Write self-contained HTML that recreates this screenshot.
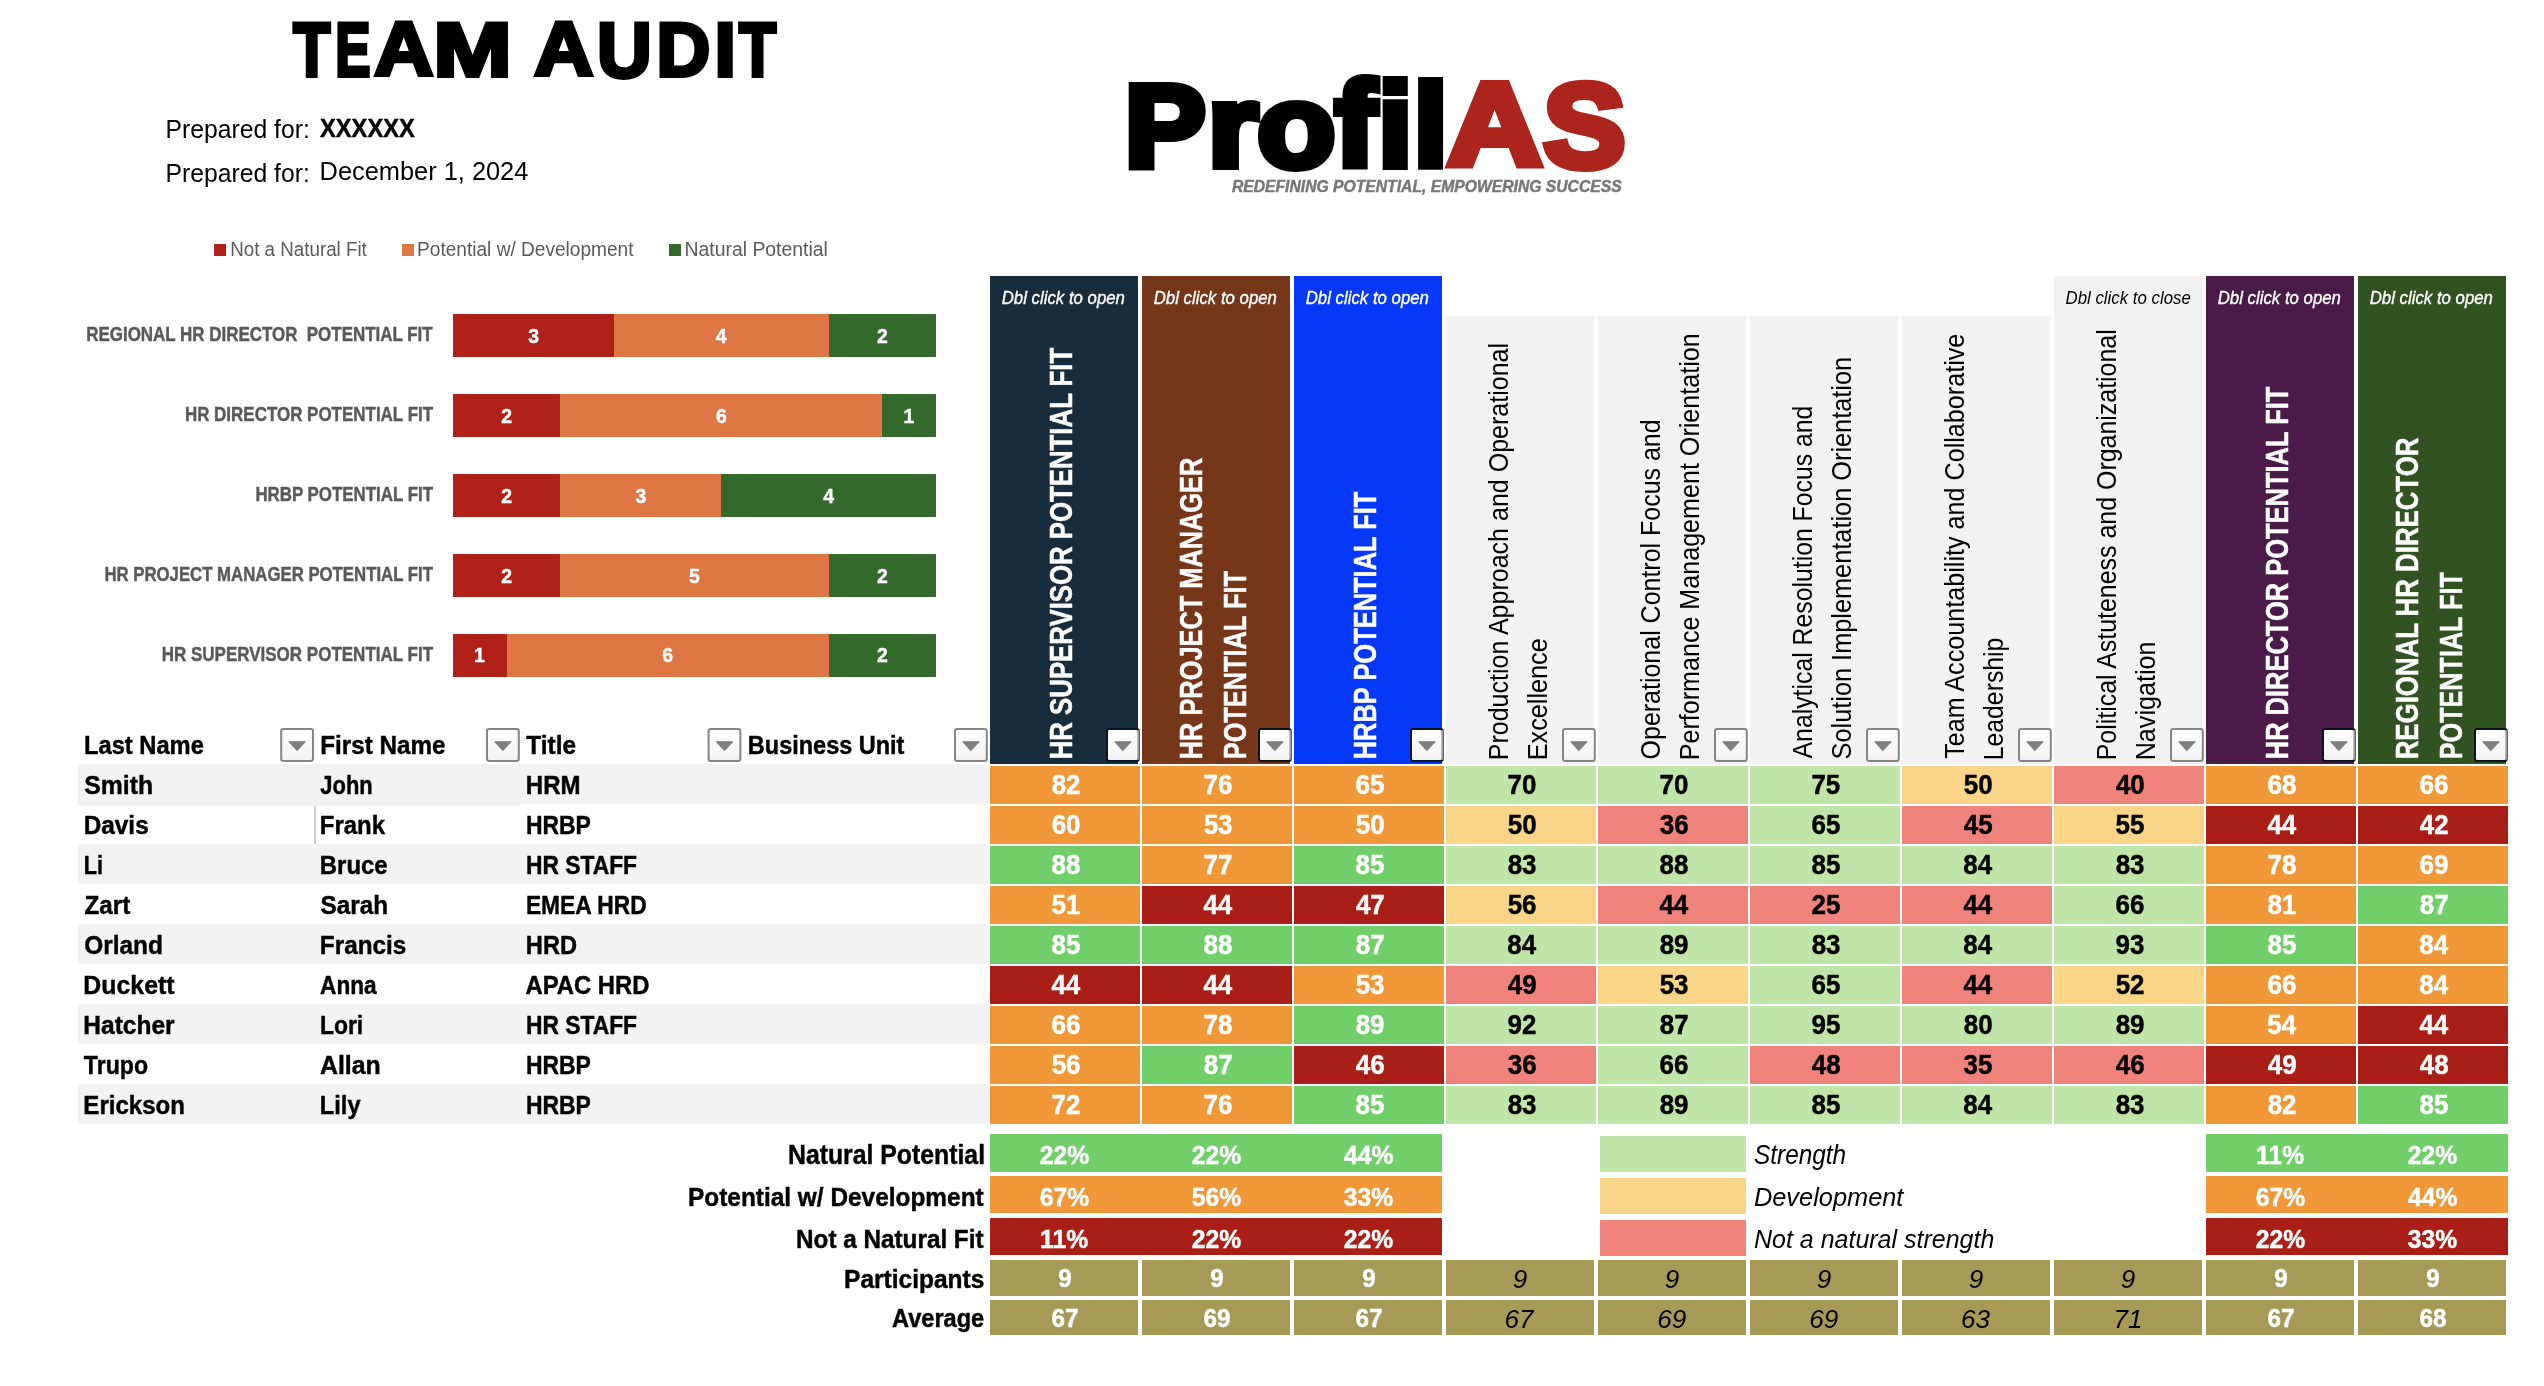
<!DOCTYPE html>
<html><head><meta charset="utf-8"><title>Team Audit</title>
<style>
html,body{margin:0;padding:0;background:#fff;}
body{width:2544px;height:1386px;overflow:hidden;}
svg{display:block;will-change:transform;}
text{font-family:"Liberation Sans",Arial,sans-serif;}
</style></head><body>
<svg width="2544" height="1386" viewBox="0 0 2544 1386">
<defs><linearGradient id="bg" x1="0" y1="0" x2="0" y2="1"><stop offset="0" stop-color="#ffffff"/><stop offset="1" stop-color="#f2f2f2"/></linearGradient></defs>
<rect x="0" y="0" width="2544" height="1386" fill="#fff"/>
<rect x="214" y="244" width="12" height="12" fill="#af2119" />
<rect x="402" y="244" width="12" height="12" fill="#de7743" />
<rect x="669" y="244" width="12" height="12" fill="#336a2b" />
<rect x="453" y="314" width="161" height="43" fill="#af2119" />
<rect x="614" y="314" width="215" height="43" fill="#de7743" />
<rect x="829" y="314" width="107" height="43" fill="#336a2b" />
<rect x="453" y="394" width="107" height="43" fill="#af2119" />
<rect x="560" y="394" width="322" height="43" fill="#de7743" />
<rect x="882" y="394" width="54" height="43" fill="#336a2b" />
<rect x="453" y="474" width="107" height="43" fill="#af2119" />
<rect x="560" y="474" width="161" height="43" fill="#de7743" />
<rect x="721" y="474" width="215" height="43" fill="#336a2b" />
<rect x="453" y="554" width="107" height="43" fill="#af2119" />
<rect x="560" y="554" width="269" height="43" fill="#de7743" />
<rect x="829" y="554" width="107" height="43" fill="#336a2b" />
<rect x="453" y="634" width="54" height="43" fill="#af2119" />
<rect x="507" y="634" width="322" height="43" fill="#de7743" />
<rect x="829" y="634" width="107" height="43" fill="#336a2b" />
<rect x="78" y="764" width="910" height="40" fill="#f2f2f2" />
<rect x="78" y="844" width="910" height="40" fill="#f2f2f2" />
<rect x="78" y="924" width="910" height="40" fill="#f2f2f2" />
<rect x="78" y="1004" width="910" height="40" fill="#f2f2f2" />
<rect x="78" y="1084" width="910" height="40" fill="#f2f2f2" />
<rect x="78" y="800" width="442" height="6" fill="#f2f2f2" />
<rect x="314" y="806" width="2" height="38" fill="#c9c9c9" />
<rect x="990" y="276" width="148" height="488" fill="#172d3e" />
<rect x="1142" y="276" width="148" height="488" fill="#76361a" />
<rect x="1294" y="276" width="148" height="488" fill="#0639f7" />
<rect x="1446" y="316" width="148" height="448" fill="#f2f2f2" />
<rect x="1598" y="316" width="148" height="448" fill="#f2f2f2" />
<rect x="1750" y="316" width="148" height="448" fill="#f2f2f2" />
<rect x="1902" y="316" width="148" height="448" fill="#f2f2f2" />
<rect x="2054" y="276" width="148" height="488" fill="#f2f2f2" />
<rect x="2206" y="276" width="148" height="488" fill="#4a1a48" />
<rect x="2358" y="276" width="148" height="488" fill="#315322" />
<rect x="990" y="766" width="150" height="38" fill="#f09838" />
<rect x="1142" y="766" width="150" height="38" fill="#f09838" />
<rect x="1294" y="766" width="150" height="38" fill="#f09838" />
<rect x="1446" y="766" width="150" height="38" fill="#c0e5a8" />
<rect x="1598" y="766" width="150" height="38" fill="#c0e5a8" />
<rect x="1750" y="766" width="150" height="38" fill="#c0e5a8" />
<rect x="1902" y="766" width="150" height="38" fill="#f8d587" />
<rect x="2054" y="766" width="150" height="38" fill="#f0837c" />
<rect x="2206" y="766" width="150" height="38" fill="#f09838" />
<rect x="2358" y="766" width="150" height="38" fill="#f09838" />
<rect x="990" y="806" width="150" height="38" fill="#f09838" />
<rect x="1142" y="806" width="150" height="38" fill="#f09838" />
<rect x="1294" y="806" width="150" height="38" fill="#f09838" />
<rect x="1446" y="806" width="150" height="38" fill="#f8d587" />
<rect x="1598" y="806" width="150" height="38" fill="#f0837c" />
<rect x="1750" y="806" width="150" height="38" fill="#c0e5a8" />
<rect x="1902" y="806" width="150" height="38" fill="#f0837c" />
<rect x="2054" y="806" width="150" height="38" fill="#f8d587" />
<rect x="2206" y="806" width="150" height="38" fill="#a91f17" />
<rect x="2358" y="806" width="150" height="38" fill="#a91f17" />
<rect x="990" y="846" width="150" height="38" fill="#71cf69" />
<rect x="1142" y="846" width="150" height="38" fill="#f09838" />
<rect x="1294" y="846" width="150" height="38" fill="#71cf69" />
<rect x="1446" y="846" width="150" height="38" fill="#c0e5a8" />
<rect x="1598" y="846" width="150" height="38" fill="#c0e5a8" />
<rect x="1750" y="846" width="150" height="38" fill="#c0e5a8" />
<rect x="1902" y="846" width="150" height="38" fill="#c0e5a8" />
<rect x="2054" y="846" width="150" height="38" fill="#c0e5a8" />
<rect x="2206" y="846" width="150" height="38" fill="#f09838" />
<rect x="2358" y="846" width="150" height="38" fill="#f09838" />
<rect x="990" y="886" width="150" height="38" fill="#f09838" />
<rect x="1142" y="886" width="150" height="38" fill="#a91f17" />
<rect x="1294" y="886" width="150" height="38" fill="#a91f17" />
<rect x="1446" y="886" width="150" height="38" fill="#f8d587" />
<rect x="1598" y="886" width="150" height="38" fill="#f0837c" />
<rect x="1750" y="886" width="150" height="38" fill="#f0837c" />
<rect x="1902" y="886" width="150" height="38" fill="#f0837c" />
<rect x="2054" y="886" width="150" height="38" fill="#c0e5a8" />
<rect x="2206" y="886" width="150" height="38" fill="#f09838" />
<rect x="2358" y="886" width="150" height="38" fill="#71cf69" />
<rect x="990" y="926" width="150" height="38" fill="#71cf69" />
<rect x="1142" y="926" width="150" height="38" fill="#71cf69" />
<rect x="1294" y="926" width="150" height="38" fill="#71cf69" />
<rect x="1446" y="926" width="150" height="38" fill="#c0e5a8" />
<rect x="1598" y="926" width="150" height="38" fill="#c0e5a8" />
<rect x="1750" y="926" width="150" height="38" fill="#c0e5a8" />
<rect x="1902" y="926" width="150" height="38" fill="#c0e5a8" />
<rect x="2054" y="926" width="150" height="38" fill="#c0e5a8" />
<rect x="2206" y="926" width="150" height="38" fill="#71cf69" />
<rect x="2358" y="926" width="150" height="38" fill="#f09838" />
<rect x="990" y="966" width="150" height="38" fill="#a91f17" />
<rect x="1142" y="966" width="150" height="38" fill="#a91f17" />
<rect x="1294" y="966" width="150" height="38" fill="#f09838" />
<rect x="1446" y="966" width="150" height="38" fill="#f0837c" />
<rect x="1598" y="966" width="150" height="38" fill="#f8d587" />
<rect x="1750" y="966" width="150" height="38" fill="#c0e5a8" />
<rect x="1902" y="966" width="150" height="38" fill="#f0837c" />
<rect x="2054" y="966" width="150" height="38" fill="#f8d587" />
<rect x="2206" y="966" width="150" height="38" fill="#f09838" />
<rect x="2358" y="966" width="150" height="38" fill="#f09838" />
<rect x="990" y="1006" width="150" height="38" fill="#f09838" />
<rect x="1142" y="1006" width="150" height="38" fill="#f09838" />
<rect x="1294" y="1006" width="150" height="38" fill="#71cf69" />
<rect x="1446" y="1006" width="150" height="38" fill="#c0e5a8" />
<rect x="1598" y="1006" width="150" height="38" fill="#c0e5a8" />
<rect x="1750" y="1006" width="150" height="38" fill="#c0e5a8" />
<rect x="1902" y="1006" width="150" height="38" fill="#c0e5a8" />
<rect x="2054" y="1006" width="150" height="38" fill="#c0e5a8" />
<rect x="2206" y="1006" width="150" height="38" fill="#f09838" />
<rect x="2358" y="1006" width="150" height="38" fill="#a91f17" />
<rect x="990" y="1046" width="150" height="38" fill="#f09838" />
<rect x="1142" y="1046" width="150" height="38" fill="#71cf69" />
<rect x="1294" y="1046" width="150" height="38" fill="#a91f17" />
<rect x="1446" y="1046" width="150" height="38" fill="#f0837c" />
<rect x="1598" y="1046" width="150" height="38" fill="#c0e5a8" />
<rect x="1750" y="1046" width="150" height="38" fill="#f0837c" />
<rect x="1902" y="1046" width="150" height="38" fill="#f0837c" />
<rect x="2054" y="1046" width="150" height="38" fill="#f0837c" />
<rect x="2206" y="1046" width="150" height="38" fill="#a91f17" />
<rect x="2358" y="1046" width="150" height="38" fill="#a91f17" />
<rect x="990" y="1086" width="150" height="38" fill="#f09838" />
<rect x="1142" y="1086" width="150" height="38" fill="#f09838" />
<rect x="1294" y="1086" width="150" height="38" fill="#71cf69" />
<rect x="1446" y="1086" width="150" height="38" fill="#c0e5a8" />
<rect x="1598" y="1086" width="150" height="38" fill="#c0e5a8" />
<rect x="1750" y="1086" width="150" height="38" fill="#c0e5a8" />
<rect x="1902" y="1086" width="150" height="38" fill="#c0e5a8" />
<rect x="2054" y="1086" width="150" height="38" fill="#c0e5a8" />
<rect x="2206" y="1086" width="150" height="38" fill="#f09838" />
<rect x="2358" y="1086" width="150" height="38" fill="#71cf69" />
<rect x="990" y="1134" width="452" height="38" fill="#71cf69" />
<rect x="2206" y="1134" width="302" height="38" fill="#71cf69" />
<rect x="990" y="1176" width="452" height="37" fill="#f09838" />
<rect x="2206" y="1176" width="302" height="37" fill="#f09838" />
<rect x="990" y="1218" width="452" height="37" fill="#a91f17" />
<rect x="2206" y="1218" width="302" height="37" fill="#a91f17" />
<rect x="990" y="1260" width="148" height="36" fill="#a69a56" />
<rect x="990" y="1300" width="148" height="35" fill="#a69a56" />
<rect x="1142" y="1260" width="148" height="36" fill="#a69a56" />
<rect x="1142" y="1300" width="148" height="35" fill="#a69a56" />
<rect x="1294" y="1260" width="148" height="36" fill="#a69a56" />
<rect x="1294" y="1300" width="148" height="35" fill="#a69a56" />
<rect x="1446" y="1260" width="148" height="36" fill="#a69a56" />
<rect x="1446" y="1300" width="148" height="35" fill="#a69a56" />
<rect x="1598" y="1260" width="148" height="36" fill="#a69a56" />
<rect x="1598" y="1300" width="148" height="35" fill="#a69a56" />
<rect x="1750" y="1260" width="148" height="36" fill="#a69a56" />
<rect x="1750" y="1300" width="148" height="35" fill="#a69a56" />
<rect x="1902" y="1260" width="148" height="36" fill="#a69a56" />
<rect x="1902" y="1300" width="148" height="35" fill="#a69a56" />
<rect x="2054" y="1260" width="148" height="36" fill="#a69a56" />
<rect x="2054" y="1300" width="148" height="35" fill="#a69a56" />
<rect x="2206" y="1260" width="148" height="36" fill="#a69a56" />
<rect x="2206" y="1300" width="148" height="35" fill="#a69a56" />
<rect x="2358" y="1260" width="148" height="36" fill="#a69a56" />
<rect x="2358" y="1300" width="148" height="35" fill="#a69a56" />
<rect x="1600" y="1136" width="146" height="36" fill="#c0e5a8" />
<rect x="1600" y="1178" width="146" height="36" fill="#f8d587" />
<rect x="1600" y="1220" width="146" height="36" fill="#f0837c" />
<text transform="translate(293.19,75.80) scale(0.7956,1)" fill="#000" font-size="76.09" font-weight="bold" stroke="#000" stroke-width="4.0" stroke-linejoin="miter" stroke-miterlimit="3">T</text>
<text transform="translate(335.36,75.80) scale(0.6938,1)" fill="#000" font-size="76.09" font-weight="bold" stroke="#000" stroke-width="4.0" stroke-linejoin="miter" stroke-miterlimit="3">E</text>
<text transform="translate(374.22,75.42) scale(1.0840,1)" fill="#000" font-size="75.54" font-weight="bold" stroke="#000" stroke-width="4.0" stroke-linejoin="miter" stroke-miterlimit="3">A</text>
<text transform="translate(433.25,75.80) scale(1.2399,1)" fill="#000" font-size="76.09" font-weight="bold" stroke="#000" stroke-width="4.0" stroke-linejoin="miter" stroke-miterlimit="3">M</text>
<text transform="translate(534.32,75.42) scale(1.0822,1)" fill="#000" font-size="75.54" font-weight="bold" stroke="#000" stroke-width="4.0" stroke-linejoin="miter" stroke-miterlimit="3">A</text>
<text transform="translate(597.02,76.53) scale(0.9824,1)" fill="#000" font-size="77.14" font-weight="bold" stroke="#000" stroke-width="4.0" stroke-linejoin="miter" stroke-miterlimit="3">U</text>
<text transform="translate(656.52,75.80) scale(0.9765,1)" fill="#000" font-size="76.09" font-weight="bold" stroke="#000" stroke-width="4.0" stroke-linejoin="miter" stroke-miterlimit="3">D</text>
<text transform="translate(714.62,75.80) scale(1.0111,1)" fill="#000" font-size="76.09" font-weight="bold" stroke="#000" stroke-width="4.0" stroke-linejoin="miter" stroke-miterlimit="3">I</text>
<text transform="translate(739.09,75.80) scale(0.7997,1)" fill="#000" font-size="76.09" font-weight="bold" stroke="#000" stroke-width="4.0" stroke-linejoin="miter" stroke-miterlimit="3">T</text>
<text transform="translate(165.52,137.60) scale(0.9428,1)" fill="#000" font-size="26.23">Prepared for:</text>
<text transform="translate(320.07,137.38) scale(0.9251,1)" fill="#000" font-size="25.58" font-weight="bold" stroke="#000" stroke-width="0.45" stroke-linejoin="miter" stroke-miterlimit="3">XXXXXX</text>
<text transform="translate(165.52,181.90) scale(0.9533,1)" fill="#000" font-size="25.94">Prepared for:</text>
<text transform="translate(319.57,179.70) scale(0.9784,1)" fill="#000" font-size="25.94">December 1, 2024</text>
<text transform="translate(1124.68,166.10) scale(1.0424,1)" fill="#000" font-size="116.40" font-weight="bold" stroke="#000" stroke-width="8.0" stroke-linejoin="miter" stroke-miterlimit="3">P</text>
<text transform="translate(1207.96,166.10) scale(1.1178,1)" fill="#000" font-size="114.44" font-weight="bold" stroke="#000" stroke-width="8.0" stroke-linejoin="miter" stroke-miterlimit="3">r</text>
<text transform="translate(1257.35,166.83) scale(1.0919,1)" fill="#000" font-size="117.27" font-weight="bold" stroke="#000" stroke-width="8.0" stroke-linejoin="miter" stroke-miterlimit="3">o</text>
<text transform="translate(1334.97,165.50) scale(1.0321,1)" fill="#000" font-size="119.73" font-weight="bold" stroke="#000" stroke-width="8.0" stroke-linejoin="miter" stroke-miterlimit="3">f</text>
<text transform="translate(1378.26,166.10) scale(1.0387,1)" fill="#000" font-size="118.21" font-weight="bold" stroke="#000" stroke-width="8.0" stroke-linejoin="miter" stroke-miterlimit="3">i</text>
<text transform="translate(1413.63,165.51) scale(1.0354,1)" fill="#000" font-size="117.40" font-weight="bold" stroke="#000" stroke-width="8.0" stroke-linejoin="miter" stroke-miterlimit="3">l</text>
<text transform="translate(1447.52,165.42) scale(1.1222,1)" fill="#ad241c" font-size="116.40" font-weight="bold" stroke="#ad241c" stroke-width="8.0" stroke-linejoin="miter" stroke-miterlimit="3">A</text>
<text transform="translate(1543.55,166.81) scale(1.0337,1)" fill="#ad241c" font-size="118.87" font-weight="bold" stroke="#ad241c" stroke-width="8.0" stroke-linejoin="miter" stroke-miterlimit="3">S</text>
<text transform="translate(1231.90,192.47) scale(0.9383,1)" fill="#777777" font-size="16.74" font-weight="bold" font-style="italic" stroke="#777777" stroke-width="0.45" stroke-linejoin="miter" stroke-miterlimit="3">REDEFINING POTENTIAL, EMPOWERING SUCCESS</text>
<text transform="translate(230.20,255.70) scale(0.9060,1)" fill="#595959" font-size="20.72">Not a Natural Fit</text>
<text transform="translate(417.07,255.70) scale(0.9221,1)" fill="#595959" font-size="20.72">Potential w/ Development</text>
<text transform="translate(684.45,255.70) scale(0.9371,1)" fill="#595959" font-size="20.72">Natural Potential</text>
<text transform="translate(528.21,342.68) scale(0.9200,1)" fill="#fff" font-size="21.09" font-weight="bold" stroke="#fff" stroke-width="0.45" stroke-linejoin="miter" stroke-miterlimit="3">3</text>
<text transform="translate(715.85,342.68) scale(0.9200,1)" fill="#fff" font-size="21.09" font-weight="bold" stroke="#fff" stroke-width="0.45" stroke-linejoin="miter" stroke-miterlimit="3">4</text>
<text transform="translate(877.00,342.68) scale(0.9200,1)" fill="#fff" font-size="21.09" font-weight="bold" stroke="#fff" stroke-width="0.45" stroke-linejoin="miter" stroke-miterlimit="3">2</text>
<text transform="translate(86.28,340.88) scale(0.8211,1)" fill="#595959" font-size="20.65" font-weight="bold" stroke="#595959" stroke-width="0.45" stroke-linejoin="miter" stroke-miterlimit="3" xml:space="preserve">REGIONAL HR DIRECTOR  POTENTIAL FIT</text>
<text transform="translate(501.33,422.62) scale(0.9200,1)" fill="#fff" font-size="21.09" font-weight="bold" stroke="#fff" stroke-width="0.45" stroke-linejoin="miter" stroke-miterlimit="3">2</text>
<text transform="translate(715.95,422.62) scale(0.9200,1)" fill="#fff" font-size="21.09" font-weight="bold" stroke="#fff" stroke-width="0.45" stroke-linejoin="miter" stroke-miterlimit="3">6</text>
<text transform="translate(903.44,422.62) scale(0.9200,1)" fill="#fff" font-size="21.09" font-weight="bold" stroke="#fff" stroke-width="0.45" stroke-linejoin="miter" stroke-miterlimit="3">1</text>
<text transform="translate(184.88,420.82) scale(0.8220,1)" fill="#595959" font-size="20.65" font-weight="bold" stroke="#595959" stroke-width="0.45" stroke-linejoin="miter" stroke-miterlimit="3">HR DIRECTOR POTENTIAL FIT</text>
<text transform="translate(501.33,502.57) scale(0.9200,1)" fill="#fff" font-size="21.09" font-weight="bold" stroke="#fff" stroke-width="0.45" stroke-linejoin="miter" stroke-miterlimit="3">2</text>
<text transform="translate(635.55,502.57) scale(0.9200,1)" fill="#fff" font-size="21.09" font-weight="bold" stroke="#fff" stroke-width="0.45" stroke-linejoin="miter" stroke-miterlimit="3">3</text>
<text transform="translate(823.19,502.57) scale(0.9200,1)" fill="#fff" font-size="21.09" font-weight="bold" stroke="#fff" stroke-width="0.45" stroke-linejoin="miter" stroke-miterlimit="3">4</text>
<text transform="translate(255.39,500.77) scale(0.8175,1)" fill="#595959" font-size="20.65" font-weight="bold" stroke="#595959" stroke-width="0.45" stroke-linejoin="miter" stroke-miterlimit="3">HRBP POTENTIAL FIT</text>
<text transform="translate(501.33,582.52) scale(0.9200,1)" fill="#fff" font-size="21.09" font-weight="bold" stroke="#fff" stroke-width="0.45" stroke-linejoin="miter" stroke-miterlimit="3">2</text>
<text transform="translate(689.07,582.52) scale(0.9200,1)" fill="#fff" font-size="21.09" font-weight="bold" stroke="#fff" stroke-width="0.45" stroke-linejoin="miter" stroke-miterlimit="3">5</text>
<text transform="translate(877.00,582.52) scale(0.9200,1)" fill="#fff" font-size="21.09" font-weight="bold" stroke="#fff" stroke-width="0.45" stroke-linejoin="miter" stroke-miterlimit="3">2</text>
<text transform="translate(104.39,580.73) scale(0.8128,1)" fill="#595959" font-size="20.65" font-weight="bold" stroke="#595959" stroke-width="0.45" stroke-linejoin="miter" stroke-miterlimit="3">HR PROJECT MANAGER POTENTIAL FIT</text>
<text transform="translate(474.11,662.48) scale(0.9200,1)" fill="#fff" font-size="21.09" font-weight="bold" stroke="#fff" stroke-width="0.45" stroke-linejoin="miter" stroke-miterlimit="3">1</text>
<text transform="translate(662.28,662.48) scale(0.9200,1)" fill="#fff" font-size="21.09" font-weight="bold" stroke="#fff" stroke-width="0.45" stroke-linejoin="miter" stroke-miterlimit="3">6</text>
<text transform="translate(877.00,662.48) scale(0.9200,1)" fill="#fff" font-size="21.09" font-weight="bold" stroke="#fff" stroke-width="0.45" stroke-linejoin="miter" stroke-miterlimit="3">2</text>
<text transform="translate(161.68,660.68) scale(0.8236,1)" fill="#595959" font-size="20.65" font-weight="bold" stroke="#595959" stroke-width="0.45" stroke-linejoin="miter" stroke-miterlimit="3">HR SUPERVISOR POTENTIAL FIT</text>
<text transform="translate(83.96,753.67) scale(0.9021,1)" fill="#000" font-size="26.30" font-weight="bold" stroke="#000" stroke-width="0.45" stroke-linejoin="miter" stroke-miterlimit="3">Last Name</text>
<text transform="translate(320.13,753.67) scale(0.9229,1)" fill="#000" font-size="26.30" font-weight="bold" stroke="#000" stroke-width="0.45" stroke-linejoin="miter" stroke-miterlimit="3">First Name</text>
<text transform="translate(526.36,753.67) scale(0.9277,1)" fill="#000" font-size="26.30" font-weight="bold" stroke="#000" stroke-width="0.45" stroke-linejoin="miter" stroke-miterlimit="3">Title</text>
<text transform="translate(747.87,753.67) scale(0.8930,1)" fill="#000" font-size="26.30" font-weight="bold" stroke="#000" stroke-width="0.45" stroke-linejoin="miter" stroke-miterlimit="3">Business Unit</text>
<text transform="translate(84.27,793.57) scale(0.9426,1)" fill="#000" font-size="26.30" font-weight="bold" stroke="#000" stroke-width="0.45" stroke-linejoin="miter" stroke-miterlimit="3">Smith</text>
<text transform="translate(320.36,793.57) scale(0.8332,1)" fill="#000" font-size="26.30" font-weight="bold" stroke="#000" stroke-width="0.45" stroke-linejoin="miter" stroke-miterlimit="3">John</text>
<text transform="translate(525.84,793.57) scale(0.9143,1)" fill="#000" font-size="26.30" font-weight="bold" stroke="#000" stroke-width="0.45" stroke-linejoin="miter" stroke-miterlimit="3">HRM</text>
<text transform="translate(83.72,833.57) scale(0.9261,1)" fill="#000" font-size="26.30" font-weight="bold" stroke="#000" stroke-width="0.45" stroke-linejoin="miter" stroke-miterlimit="3">Davis</text>
<text transform="translate(319.85,833.57) scale(0.9105,1)" fill="#000" font-size="26.30" font-weight="bold" stroke="#000" stroke-width="0.45" stroke-linejoin="miter" stroke-miterlimit="3">Frank</text>
<text transform="translate(525.91,833.57) scale(0.8716,1)" fill="#000" font-size="26.30" font-weight="bold" stroke="#000" stroke-width="0.45" stroke-linejoin="miter" stroke-miterlimit="3">HRBP</text>
<text transform="translate(83.77,873.57) scale(0.8272,1)" fill="#000" font-size="26.30" font-weight="bold" stroke="#000" stroke-width="0.45" stroke-linejoin="miter" stroke-miterlimit="3">Li</text>
<text transform="translate(319.85,873.57) scale(0.9089,1)" fill="#000" font-size="26.30" font-weight="bold" stroke="#000" stroke-width="0.45" stroke-linejoin="miter" stroke-miterlimit="3">Bruce</text>
<text transform="translate(525.91,873.57) scale(0.8680,1)" fill="#000" font-size="26.30" font-weight="bold" stroke="#000" stroke-width="0.45" stroke-linejoin="miter" stroke-miterlimit="3">HR STAFF</text>
<text transform="translate(84.48,913.57) scale(0.9203,1)" fill="#000" font-size="26.30" font-weight="bold" stroke="#000" stroke-width="0.45" stroke-linejoin="miter" stroke-miterlimit="3">Zart</text>
<text transform="translate(320.48,913.57) scale(0.9269,1)" fill="#000" font-size="26.30" font-weight="bold" stroke="#000" stroke-width="0.45" stroke-linejoin="miter" stroke-miterlimit="3">Sarah</text>
<text transform="translate(525.91,913.57) scale(0.8674,1)" fill="#000" font-size="26.30" font-weight="bold" stroke="#000" stroke-width="0.45" stroke-linejoin="miter" stroke-miterlimit="3">EMEA HRD</text>
<text transform="translate(84.23,953.57) scale(0.9297,1)" fill="#000" font-size="26.30" font-weight="bold" stroke="#000" stroke-width="0.45" stroke-linejoin="miter" stroke-miterlimit="3">Orland</text>
<text transform="translate(319.83,953.57) scale(0.9243,1)" fill="#000" font-size="26.30" font-weight="bold" stroke="#000" stroke-width="0.45" stroke-linejoin="miter" stroke-miterlimit="3">Francis</text>
<text transform="translate(525.87,953.57) scale(0.8987,1)" fill="#000" font-size="26.30" font-weight="bold" stroke="#000" stroke-width="0.45" stroke-linejoin="miter" stroke-miterlimit="3">HRD</text>
<text transform="translate(83.29,993.57) scale(0.9464,1)" fill="#000" font-size="26.30" font-weight="bold" stroke="#000" stroke-width="0.45" stroke-linejoin="miter" stroke-miterlimit="3">Duckett</text>
<text transform="translate(320.03,993.57) scale(0.8617,1)" fill="#000" font-size="26.30" font-weight="bold" stroke="#000" stroke-width="0.45" stroke-linejoin="miter" stroke-miterlimit="3">Anna</text>
<text transform="translate(525.51,993.57) scale(0.9061,1)" fill="#000" font-size="26.30" font-weight="bold" stroke="#000" stroke-width="0.45" stroke-linejoin="miter" stroke-miterlimit="3">APAC HRD</text>
<text transform="translate(83.32,1033.58) scale(0.9322,1)" fill="#000" font-size="26.30" font-weight="bold" stroke="#000" stroke-width="0.45" stroke-linejoin="miter" stroke-miterlimit="3">Hatcher</text>
<text transform="translate(319.90,1033.58) scale(0.8731,1)" fill="#000" font-size="26.30" font-weight="bold" stroke="#000" stroke-width="0.45" stroke-linejoin="miter" stroke-miterlimit="3">Lori</text>
<text transform="translate(525.91,1033.58) scale(0.8680,1)" fill="#000" font-size="26.30" font-weight="bold" stroke="#000" stroke-width="0.45" stroke-linejoin="miter" stroke-miterlimit="3">HR STAFF</text>
<text transform="translate(83.87,1073.58) scale(0.8801,1)" fill="#000" font-size="26.30" font-weight="bold" stroke="#000" stroke-width="0.45" stroke-linejoin="miter" stroke-miterlimit="3">Trupo</text>
<text transform="translate(319.99,1073.58) scale(0.9452,1)" fill="#000" font-size="26.30" font-weight="bold" stroke="#000" stroke-width="0.45" stroke-linejoin="miter" stroke-miterlimit="3">Allan</text>
<text transform="translate(525.91,1073.58) scale(0.8716,1)" fill="#000" font-size="26.30" font-weight="bold" stroke="#000" stroke-width="0.45" stroke-linejoin="miter" stroke-miterlimit="3">HRBP</text>
<text transform="translate(83.34,1113.58) scale(0.9151,1)" fill="#000" font-size="26.30" font-weight="bold" stroke="#000" stroke-width="0.45" stroke-linejoin="miter" stroke-miterlimit="3">Erickson</text>
<text transform="translate(319.87,1113.58) scale(0.8985,1)" fill="#000" font-size="26.30" font-weight="bold" stroke="#000" stroke-width="0.45" stroke-linejoin="miter" stroke-miterlimit="3">Lily</text>
<text transform="translate(525.91,1113.58) scale(0.8716,1)" fill="#000" font-size="26.30" font-weight="bold" stroke="#000" stroke-width="0.45" stroke-linejoin="miter" stroke-miterlimit="3">HRBP</text>
<text transform="translate(1001.66,303.93) scale(0.9387,1)" fill="#fff" font-size="17.90" font-style="italic" stroke="#fff" stroke-width="0.35" stroke-linejoin="miter" stroke-miterlimit="3">Dbl click to open</text>
<text transform="translate(1153.66,303.93) scale(0.9387,1)" fill="#fff" font-size="17.90" font-style="italic" stroke="#fff" stroke-width="0.35" stroke-linejoin="miter" stroke-miterlimit="3">Dbl click to open</text>
<text transform="translate(1305.66,303.93) scale(0.9387,1)" fill="#fff" font-size="17.90" font-style="italic" stroke="#fff" stroke-width="0.35" stroke-linejoin="miter" stroke-miterlimit="3">Dbl click to open</text>
<text transform="translate(2217.66,303.93) scale(0.9387,1)" fill="#fff" font-size="17.90" font-style="italic" stroke="#fff" stroke-width="0.35" stroke-linejoin="miter" stroke-miterlimit="3">Dbl click to open</text>
<text transform="translate(2369.66,303.93) scale(0.9387,1)" fill="#fff" font-size="17.90" font-style="italic" stroke="#fff" stroke-width="0.35" stroke-linejoin="miter" stroke-miterlimit="3">Dbl click to open</text>
<text transform="translate(2065.49,304.00) scale(0.9605,1)" fill="#000" font-size="17.54" font-style="italic">Dbl click to close</text>
<text transform="translate(1072.18,759.29) rotate(-90) scale(0.8335,1)" fill="#fff" font-size="30.94" font-weight="bold" stroke="#fff" stroke-width="0.45" stroke-linejoin="miter" stroke-miterlimit="3">HR SUPERVISOR POTENTIAL FIT</text>
<text transform="translate(1202.18,759.27) rotate(-90) scale(0.8204,1)" fill="#fff" font-size="30.94" font-weight="bold" stroke="#fff" stroke-width="0.45" stroke-linejoin="miter" stroke-miterlimit="3">HR PROJECT MANAGER</text>
<text transform="translate(1246.08,759.26) rotate(-90) scale(0.8197,1)" fill="#fff" font-size="30.94" font-weight="bold" stroke="#fff" stroke-width="0.45" stroke-linejoin="miter" stroke-miterlimit="3">POTENTIAL FIT</text>
<text transform="translate(1376.18,759.27) rotate(-90) scale(0.8225,1)" fill="#fff" font-size="30.94" font-weight="bold" stroke="#fff" stroke-width="0.45" stroke-linejoin="miter" stroke-miterlimit="3">HRBP POTENTIAL FIT</text>
<text transform="translate(2288.18,759.27) rotate(-90) scale(0.8238,1)" fill="#fff" font-size="30.94" font-weight="bold" stroke="#fff" stroke-width="0.45" stroke-linejoin="miter" stroke-miterlimit="3">HR DIRECTOR POTENTIAL FIT</text>
<text transform="translate(2418.18,759.29) rotate(-90) scale(0.8344,1)" fill="#fff" font-size="30.94" font-weight="bold" stroke="#fff" stroke-width="0.45" stroke-linejoin="miter" stroke-miterlimit="3">REGIONAL HR DIRECTOR</text>
<text transform="translate(2462.08,759.25) rotate(-90) scale(0.8145,1)" fill="#fff" font-size="30.94" font-weight="bold" stroke="#fff" stroke-width="0.45" stroke-linejoin="miter" stroke-miterlimit="3">POTENTIAL FIT</text>
<text transform="translate(1508.30,760.30) rotate(-90) scale(0.8858,1)" fill="#000" font-size="28.26">Production Approach and Operational</text>
<text transform="translate(1546.60,760.32) rotate(-90) scale(0.8933,1)" fill="#000" font-size="28.26">Excellence</text>
<text transform="translate(1660.30,759.42) rotate(-90) scale(0.8842,1)" fill="#000" font-size="28.26">Operational Control Focus and</text>
<text transform="translate(1698.60,760.31) rotate(-90) scale(0.8888,1)" fill="#000" font-size="28.26">Performance Management Orientation</text>
<text transform="translate(1812.30,758.42) rotate(-90) scale(0.8776,1)" fill="#000" font-size="28.26">Analytical Resolution Focus and</text>
<text transform="translate(1850.60,759.44) rotate(-90) scale(0.8962,1)" fill="#000" font-size="28.26">Solution Implementation Orientation</text>
<text transform="translate(1964.30,758.80) rotate(-90) scale(0.8904,1)" fill="#000" font-size="28.26">Team Accountability and Collaborative</text>
<text transform="translate(2002.60,760.28) rotate(-90) scale(0.8771,1)" fill="#000" font-size="28.26">Leadership</text>
<text transform="translate(2116.30,760.30) rotate(-90) scale(0.8828,1)" fill="#000" font-size="28.26">Political Astuteness and Organizational</text>
<text transform="translate(2154.60,760.31) rotate(-90) scale(0.8900,1)" fill="#000" font-size="28.26">Navigation</text>
<text transform="translate(1051.67,793.77) scale(0.9700,1)" fill="#fff" font-size="26.74" font-weight="bold" stroke="#fff" stroke-width="0.45" stroke-linejoin="miter" stroke-miterlimit="3">82</text>
<text transform="translate(1203.54,793.77) scale(0.9700,1)" fill="#fff" font-size="26.74" font-weight="bold" stroke="#fff" stroke-width="0.45" stroke-linejoin="miter" stroke-miterlimit="3">76</text>
<text transform="translate(1355.48,793.77) scale(0.9700,1)" fill="#fff" font-size="26.74" font-weight="bold" stroke="#fff" stroke-width="0.45" stroke-linejoin="miter" stroke-miterlimit="3">65</text>
<text transform="translate(1507.60,793.77) scale(0.9700,1)" fill="#000" font-size="26.74" font-weight="bold" stroke="#000" stroke-width="0.45" stroke-linejoin="miter" stroke-miterlimit="3">70</text>
<text transform="translate(1659.60,793.77) scale(0.9700,1)" fill="#000" font-size="26.74" font-weight="bold" stroke="#000" stroke-width="0.45" stroke-linejoin="miter" stroke-miterlimit="3">70</text>
<text transform="translate(1811.41,793.77) scale(0.9700,1)" fill="#000" font-size="26.74" font-weight="bold" stroke="#000" stroke-width="0.45" stroke-linejoin="miter" stroke-miterlimit="3">75</text>
<text transform="translate(1963.73,793.77) scale(0.9700,1)" fill="#000" font-size="26.74" font-weight="bold" stroke="#000" stroke-width="0.45" stroke-linejoin="miter" stroke-miterlimit="3">50</text>
<text transform="translate(2115.93,793.77) scale(0.9700,1)" fill="#000" font-size="26.74" font-weight="bold" stroke="#000" stroke-width="0.45" stroke-linejoin="miter" stroke-miterlimit="3">40</text>
<text transform="translate(2267.54,793.77) scale(0.9700,1)" fill="#fff" font-size="26.74" font-weight="bold" stroke="#fff" stroke-width="0.45" stroke-linejoin="miter" stroke-miterlimit="3">68</text>
<text transform="translate(2419.60,793.77) scale(0.9700,1)" fill="#fff" font-size="26.74" font-weight="bold" stroke="#fff" stroke-width="0.45" stroke-linejoin="miter" stroke-miterlimit="3">66</text>
<text transform="translate(1051.67,833.77) scale(0.9700,1)" fill="#fff" font-size="26.74" font-weight="bold" stroke="#fff" stroke-width="0.45" stroke-linejoin="miter" stroke-miterlimit="3">60</text>
<text transform="translate(1203.67,833.77) scale(0.9700,1)" fill="#fff" font-size="26.74" font-weight="bold" stroke="#fff" stroke-width="0.45" stroke-linejoin="miter" stroke-miterlimit="3">53</text>
<text transform="translate(1355.73,833.77) scale(0.9700,1)" fill="#fff" font-size="26.74" font-weight="bold" stroke="#fff" stroke-width="0.45" stroke-linejoin="miter" stroke-miterlimit="3">50</text>
<text transform="translate(1507.73,833.77) scale(0.9700,1)" fill="#000" font-size="26.74" font-weight="bold" stroke="#000" stroke-width="0.45" stroke-linejoin="miter" stroke-miterlimit="3">50</text>
<text transform="translate(1659.73,833.77) scale(0.9700,1)" fill="#000" font-size="26.74" font-weight="bold" stroke="#000" stroke-width="0.45" stroke-linejoin="miter" stroke-miterlimit="3">36</text>
<text transform="translate(1811.48,833.77) scale(0.9700,1)" fill="#000" font-size="26.74" font-weight="bold" stroke="#000" stroke-width="0.45" stroke-linejoin="miter" stroke-miterlimit="3">65</text>
<text transform="translate(1963.73,833.77) scale(0.9700,1)" fill="#000" font-size="26.74" font-weight="bold" stroke="#000" stroke-width="0.45" stroke-linejoin="miter" stroke-miterlimit="3">45</text>
<text transform="translate(2115.54,833.77) scale(0.9700,1)" fill="#000" font-size="26.74" font-weight="bold" stroke="#000" stroke-width="0.45" stroke-linejoin="miter" stroke-miterlimit="3">55</text>
<text transform="translate(2267.41,833.77) scale(0.9700,1)" fill="#fff" font-size="26.74" font-weight="bold" stroke="#fff" stroke-width="0.45" stroke-linejoin="miter" stroke-miterlimit="3">44</text>
<text transform="translate(2419.86,833.77) scale(0.9700,1)" fill="#fff" font-size="26.74" font-weight="bold" stroke="#fff" stroke-width="0.45" stroke-linejoin="miter" stroke-miterlimit="3">42</text>
<text transform="translate(1051.60,873.77) scale(0.9700,1)" fill="#fff" font-size="26.74" font-weight="bold" stroke="#fff" stroke-width="0.45" stroke-linejoin="miter" stroke-miterlimit="3">88</text>
<text transform="translate(1203.60,873.77) scale(0.9700,1)" fill="#fff" font-size="26.74" font-weight="bold" stroke="#fff" stroke-width="0.45" stroke-linejoin="miter" stroke-miterlimit="3">77</text>
<text transform="translate(1355.54,873.77) scale(0.9700,1)" fill="#fff" font-size="26.74" font-weight="bold" stroke="#fff" stroke-width="0.45" stroke-linejoin="miter" stroke-miterlimit="3">85</text>
<text transform="translate(1507.67,873.77) scale(0.9700,1)" fill="#000" font-size="26.74" font-weight="bold" stroke="#000" stroke-width="0.45" stroke-linejoin="miter" stroke-miterlimit="3">83</text>
<text transform="translate(1659.60,873.77) scale(0.9700,1)" fill="#000" font-size="26.74" font-weight="bold" stroke="#000" stroke-width="0.45" stroke-linejoin="miter" stroke-miterlimit="3">88</text>
<text transform="translate(1811.54,873.77) scale(0.9700,1)" fill="#000" font-size="26.74" font-weight="bold" stroke="#000" stroke-width="0.45" stroke-linejoin="miter" stroke-miterlimit="3">85</text>
<text transform="translate(1963.22,873.77) scale(0.9700,1)" fill="#000" font-size="26.74" font-weight="bold" stroke="#000" stroke-width="0.45" stroke-linejoin="miter" stroke-miterlimit="3">84</text>
<text transform="translate(2115.67,873.77) scale(0.9700,1)" fill="#000" font-size="26.74" font-weight="bold" stroke="#000" stroke-width="0.45" stroke-linejoin="miter" stroke-miterlimit="3">83</text>
<text transform="translate(2267.48,873.77) scale(0.9700,1)" fill="#fff" font-size="26.74" font-weight="bold" stroke="#fff" stroke-width="0.45" stroke-linejoin="miter" stroke-miterlimit="3">78</text>
<text transform="translate(2419.60,873.77) scale(0.9700,1)" fill="#fff" font-size="26.74" font-weight="bold" stroke="#fff" stroke-width="0.45" stroke-linejoin="miter" stroke-miterlimit="3">69</text>
<text transform="translate(1051.54,913.77) scale(0.9700,1)" fill="#fff" font-size="26.74" font-weight="bold" stroke="#fff" stroke-width="0.45" stroke-linejoin="miter" stroke-miterlimit="3">51</text>
<text transform="translate(1203.41,913.77) scale(0.9700,1)" fill="#fff" font-size="26.74" font-weight="bold" stroke="#fff" stroke-width="0.45" stroke-linejoin="miter" stroke-miterlimit="3">44</text>
<text transform="translate(1355.93,913.77) scale(0.9700,1)" fill="#fff" font-size="26.74" font-weight="bold" stroke="#fff" stroke-width="0.45" stroke-linejoin="miter" stroke-miterlimit="3">47</text>
<text transform="translate(1507.67,913.77) scale(0.9700,1)" fill="#000" font-size="26.74" font-weight="bold" stroke="#000" stroke-width="0.45" stroke-linejoin="miter" stroke-miterlimit="3">56</text>
<text transform="translate(1659.41,913.77) scale(0.9700,1)" fill="#000" font-size="26.74" font-weight="bold" stroke="#000" stroke-width="0.45" stroke-linejoin="miter" stroke-miterlimit="3">44</text>
<text transform="translate(1811.48,913.77) scale(0.9700,1)" fill="#000" font-size="26.74" font-weight="bold" stroke="#000" stroke-width="0.45" stroke-linejoin="miter" stroke-miterlimit="3">25</text>
<text transform="translate(1963.41,913.77) scale(0.9700,1)" fill="#000" font-size="26.74" font-weight="bold" stroke="#000" stroke-width="0.45" stroke-linejoin="miter" stroke-miterlimit="3">44</text>
<text transform="translate(2115.60,913.77) scale(0.9700,1)" fill="#000" font-size="26.74" font-weight="bold" stroke="#000" stroke-width="0.45" stroke-linejoin="miter" stroke-miterlimit="3">66</text>
<text transform="translate(2267.54,913.77) scale(0.9700,1)" fill="#fff" font-size="26.74" font-weight="bold" stroke="#fff" stroke-width="0.45" stroke-linejoin="miter" stroke-miterlimit="3">81</text>
<text transform="translate(2419.73,913.77) scale(0.9700,1)" fill="#fff" font-size="26.74" font-weight="bold" stroke="#fff" stroke-width="0.45" stroke-linejoin="miter" stroke-miterlimit="3">87</text>
<text transform="translate(1051.54,953.77) scale(0.9700,1)" fill="#fff" font-size="26.74" font-weight="bold" stroke="#fff" stroke-width="0.45" stroke-linejoin="miter" stroke-miterlimit="3">85</text>
<text transform="translate(1203.60,953.77) scale(0.9700,1)" fill="#fff" font-size="26.74" font-weight="bold" stroke="#fff" stroke-width="0.45" stroke-linejoin="miter" stroke-miterlimit="3">88</text>
<text transform="translate(1355.73,953.77) scale(0.9700,1)" fill="#fff" font-size="26.74" font-weight="bold" stroke="#fff" stroke-width="0.45" stroke-linejoin="miter" stroke-miterlimit="3">87</text>
<text transform="translate(1507.22,953.77) scale(0.9700,1)" fill="#000" font-size="26.74" font-weight="bold" stroke="#000" stroke-width="0.45" stroke-linejoin="miter" stroke-miterlimit="3">84</text>
<text transform="translate(1659.67,953.77) scale(0.9700,1)" fill="#000" font-size="26.74" font-weight="bold" stroke="#000" stroke-width="0.45" stroke-linejoin="miter" stroke-miterlimit="3">89</text>
<text transform="translate(1811.67,953.77) scale(0.9700,1)" fill="#000" font-size="26.74" font-weight="bold" stroke="#000" stroke-width="0.45" stroke-linejoin="miter" stroke-miterlimit="3">83</text>
<text transform="translate(1963.22,953.77) scale(0.9700,1)" fill="#000" font-size="26.74" font-weight="bold" stroke="#000" stroke-width="0.45" stroke-linejoin="miter" stroke-miterlimit="3">84</text>
<text transform="translate(2115.60,953.77) scale(0.9700,1)" fill="#000" font-size="26.74" font-weight="bold" stroke="#000" stroke-width="0.45" stroke-linejoin="miter" stroke-miterlimit="3">93</text>
<text transform="translate(2267.54,953.77) scale(0.9700,1)" fill="#fff" font-size="26.74" font-weight="bold" stroke="#fff" stroke-width="0.45" stroke-linejoin="miter" stroke-miterlimit="3">85</text>
<text transform="translate(2419.22,953.77) scale(0.9700,1)" fill="#fff" font-size="26.74" font-weight="bold" stroke="#fff" stroke-width="0.45" stroke-linejoin="miter" stroke-miterlimit="3">84</text>
<text transform="translate(1051.41,993.77) scale(0.9700,1)" fill="#fff" font-size="26.74" font-weight="bold" stroke="#fff" stroke-width="0.45" stroke-linejoin="miter" stroke-miterlimit="3">44</text>
<text transform="translate(1203.41,993.77) scale(0.9700,1)" fill="#fff" font-size="26.74" font-weight="bold" stroke="#fff" stroke-width="0.45" stroke-linejoin="miter" stroke-miterlimit="3">44</text>
<text transform="translate(1355.67,993.77) scale(0.9700,1)" fill="#fff" font-size="26.74" font-weight="bold" stroke="#fff" stroke-width="0.45" stroke-linejoin="miter" stroke-miterlimit="3">53</text>
<text transform="translate(1507.86,993.77) scale(0.9700,1)" fill="#000" font-size="26.74" font-weight="bold" stroke="#000" stroke-width="0.45" stroke-linejoin="miter" stroke-miterlimit="3">49</text>
<text transform="translate(1659.67,993.77) scale(0.9700,1)" fill="#000" font-size="26.74" font-weight="bold" stroke="#000" stroke-width="0.45" stroke-linejoin="miter" stroke-miterlimit="3">53</text>
<text transform="translate(1811.48,993.77) scale(0.9700,1)" fill="#000" font-size="26.74" font-weight="bold" stroke="#000" stroke-width="0.45" stroke-linejoin="miter" stroke-miterlimit="3">65</text>
<text transform="translate(1963.41,993.77) scale(0.9700,1)" fill="#000" font-size="26.74" font-weight="bold" stroke="#000" stroke-width="0.45" stroke-linejoin="miter" stroke-miterlimit="3">44</text>
<text transform="translate(2115.67,993.77) scale(0.9700,1)" fill="#000" font-size="26.74" font-weight="bold" stroke="#000" stroke-width="0.45" stroke-linejoin="miter" stroke-miterlimit="3">52</text>
<text transform="translate(2267.60,993.77) scale(0.9700,1)" fill="#fff" font-size="26.74" font-weight="bold" stroke="#fff" stroke-width="0.45" stroke-linejoin="miter" stroke-miterlimit="3">66</text>
<text transform="translate(2419.22,993.77) scale(0.9700,1)" fill="#fff" font-size="26.74" font-weight="bold" stroke="#fff" stroke-width="0.45" stroke-linejoin="miter" stroke-miterlimit="3">84</text>
<text transform="translate(1051.60,1033.78) scale(0.9700,1)" fill="#fff" font-size="26.74" font-weight="bold" stroke="#fff" stroke-width="0.45" stroke-linejoin="miter" stroke-miterlimit="3">66</text>
<text transform="translate(1203.48,1033.78) scale(0.9700,1)" fill="#fff" font-size="26.74" font-weight="bold" stroke="#fff" stroke-width="0.45" stroke-linejoin="miter" stroke-miterlimit="3">78</text>
<text transform="translate(1355.67,1033.78) scale(0.9700,1)" fill="#fff" font-size="26.74" font-weight="bold" stroke="#fff" stroke-width="0.45" stroke-linejoin="miter" stroke-miterlimit="3">89</text>
<text transform="translate(1507.60,1033.78) scale(0.9700,1)" fill="#000" font-size="26.74" font-weight="bold" stroke="#000" stroke-width="0.45" stroke-linejoin="miter" stroke-miterlimit="3">92</text>
<text transform="translate(1659.73,1033.78) scale(0.9700,1)" fill="#000" font-size="26.74" font-weight="bold" stroke="#000" stroke-width="0.45" stroke-linejoin="miter" stroke-miterlimit="3">87</text>
<text transform="translate(1811.48,1033.78) scale(0.9700,1)" fill="#000" font-size="26.74" font-weight="bold" stroke="#000" stroke-width="0.45" stroke-linejoin="miter" stroke-miterlimit="3">95</text>
<text transform="translate(1963.73,1033.78) scale(0.9700,1)" fill="#000" font-size="26.74" font-weight="bold" stroke="#000" stroke-width="0.45" stroke-linejoin="miter" stroke-miterlimit="3">80</text>
<text transform="translate(2115.67,1033.78) scale(0.9700,1)" fill="#000" font-size="26.74" font-weight="bold" stroke="#000" stroke-width="0.45" stroke-linejoin="miter" stroke-miterlimit="3">89</text>
<text transform="translate(2267.22,1033.78) scale(0.9700,1)" fill="#fff" font-size="26.74" font-weight="bold" stroke="#fff" stroke-width="0.45" stroke-linejoin="miter" stroke-miterlimit="3">54</text>
<text transform="translate(2419.41,1033.78) scale(0.9700,1)" fill="#fff" font-size="26.74" font-weight="bold" stroke="#fff" stroke-width="0.45" stroke-linejoin="miter" stroke-miterlimit="3">44</text>
<text transform="translate(1051.67,1073.78) scale(0.9700,1)" fill="#fff" font-size="26.74" font-weight="bold" stroke="#fff" stroke-width="0.45" stroke-linejoin="miter" stroke-miterlimit="3">56</text>
<text transform="translate(1203.73,1073.78) scale(0.9700,1)" fill="#fff" font-size="26.74" font-weight="bold" stroke="#fff" stroke-width="0.45" stroke-linejoin="miter" stroke-miterlimit="3">87</text>
<text transform="translate(1355.86,1073.78) scale(0.9700,1)" fill="#fff" font-size="26.74" font-weight="bold" stroke="#fff" stroke-width="0.45" stroke-linejoin="miter" stroke-miterlimit="3">46</text>
<text transform="translate(1507.73,1073.78) scale(0.9700,1)" fill="#000" font-size="26.74" font-weight="bold" stroke="#000" stroke-width="0.45" stroke-linejoin="miter" stroke-miterlimit="3">36</text>
<text transform="translate(1659.60,1073.78) scale(0.9700,1)" fill="#000" font-size="26.74" font-weight="bold" stroke="#000" stroke-width="0.45" stroke-linejoin="miter" stroke-miterlimit="3">66</text>
<text transform="translate(1811.80,1073.78) scale(0.9700,1)" fill="#000" font-size="26.74" font-weight="bold" stroke="#000" stroke-width="0.45" stroke-linejoin="miter" stroke-miterlimit="3">48</text>
<text transform="translate(1963.60,1073.78) scale(0.9700,1)" fill="#000" font-size="26.74" font-weight="bold" stroke="#000" stroke-width="0.45" stroke-linejoin="miter" stroke-miterlimit="3">35</text>
<text transform="translate(2115.86,1073.78) scale(0.9700,1)" fill="#000" font-size="26.74" font-weight="bold" stroke="#000" stroke-width="0.45" stroke-linejoin="miter" stroke-miterlimit="3">46</text>
<text transform="translate(2267.86,1073.78) scale(0.9700,1)" fill="#fff" font-size="26.74" font-weight="bold" stroke="#fff" stroke-width="0.45" stroke-linejoin="miter" stroke-miterlimit="3">49</text>
<text transform="translate(2419.80,1073.78) scale(0.9700,1)" fill="#fff" font-size="26.74" font-weight="bold" stroke="#fff" stroke-width="0.45" stroke-linejoin="miter" stroke-miterlimit="3">48</text>
<text transform="translate(1051.54,1113.78) scale(0.9700,1)" fill="#fff" font-size="26.74" font-weight="bold" stroke="#fff" stroke-width="0.45" stroke-linejoin="miter" stroke-miterlimit="3">72</text>
<text transform="translate(1203.54,1113.78) scale(0.9700,1)" fill="#fff" font-size="26.74" font-weight="bold" stroke="#fff" stroke-width="0.45" stroke-linejoin="miter" stroke-miterlimit="3">76</text>
<text transform="translate(1355.54,1113.78) scale(0.9700,1)" fill="#fff" font-size="26.74" font-weight="bold" stroke="#fff" stroke-width="0.45" stroke-linejoin="miter" stroke-miterlimit="3">85</text>
<text transform="translate(1507.67,1113.78) scale(0.9700,1)" fill="#000" font-size="26.74" font-weight="bold" stroke="#000" stroke-width="0.45" stroke-linejoin="miter" stroke-miterlimit="3">83</text>
<text transform="translate(1659.67,1113.78) scale(0.9700,1)" fill="#000" font-size="26.74" font-weight="bold" stroke="#000" stroke-width="0.45" stroke-linejoin="miter" stroke-miterlimit="3">89</text>
<text transform="translate(1811.54,1113.78) scale(0.9700,1)" fill="#000" font-size="26.74" font-weight="bold" stroke="#000" stroke-width="0.45" stroke-linejoin="miter" stroke-miterlimit="3">85</text>
<text transform="translate(1963.22,1113.78) scale(0.9700,1)" fill="#000" font-size="26.74" font-weight="bold" stroke="#000" stroke-width="0.45" stroke-linejoin="miter" stroke-miterlimit="3">84</text>
<text transform="translate(2115.67,1113.78) scale(0.9700,1)" fill="#000" font-size="26.74" font-weight="bold" stroke="#000" stroke-width="0.45" stroke-linejoin="miter" stroke-miterlimit="3">83</text>
<text transform="translate(2267.67,1113.78) scale(0.9700,1)" fill="#fff" font-size="26.74" font-weight="bold" stroke="#fff" stroke-width="0.45" stroke-linejoin="miter" stroke-miterlimit="3">82</text>
<text transform="translate(2419.54,1113.78) scale(0.9700,1)" fill="#fff" font-size="26.74" font-weight="bold" stroke="#fff" stroke-width="0.45" stroke-linejoin="miter" stroke-miterlimit="3">85</text>
<text transform="translate(1039.70,1163.78) scale(0.9700,1)" fill="#fff" font-size="25.43" font-weight="bold" stroke="#fff" stroke-width="0.45" stroke-linejoin="miter" stroke-miterlimit="3">22%</text>
<text transform="translate(1191.70,1163.78) scale(0.9700,1)" fill="#fff" font-size="25.43" font-weight="bold" stroke="#fff" stroke-width="0.45" stroke-linejoin="miter" stroke-miterlimit="3">22%</text>
<text transform="translate(1343.95,1163.78) scale(0.9700,1)" fill="#fff" font-size="25.43" font-weight="bold" stroke="#fff" stroke-width="0.45" stroke-linejoin="miter" stroke-miterlimit="3">44%</text>
<text transform="translate(2256.07,1163.78) scale(0.9700,1)" fill="#fff" font-size="25.43" font-weight="bold" stroke="#fff" stroke-width="0.45" stroke-linejoin="miter" stroke-miterlimit="3">11%</text>
<text transform="translate(2407.70,1163.78) scale(0.9700,1)" fill="#fff" font-size="25.43" font-weight="bold" stroke="#fff" stroke-width="0.45" stroke-linejoin="miter" stroke-miterlimit="3">22%</text>
<text transform="translate(1039.70,1205.67) scale(0.9700,1)" fill="#fff" font-size="25.43" font-weight="bold" stroke="#fff" stroke-width="0.45" stroke-linejoin="miter" stroke-miterlimit="3">67%</text>
<text transform="translate(1191.77,1205.67) scale(0.9700,1)" fill="#fff" font-size="25.43" font-weight="bold" stroke="#fff" stroke-width="0.45" stroke-linejoin="miter" stroke-miterlimit="3">56%</text>
<text transform="translate(1343.83,1205.67) scale(0.9700,1)" fill="#fff" font-size="25.43" font-weight="bold" stroke="#fff" stroke-width="0.45" stroke-linejoin="miter" stroke-miterlimit="3">33%</text>
<text transform="translate(2255.70,1205.67) scale(0.9700,1)" fill="#fff" font-size="25.43" font-weight="bold" stroke="#fff" stroke-width="0.45" stroke-linejoin="miter" stroke-miterlimit="3">67%</text>
<text transform="translate(2407.95,1205.67) scale(0.9700,1)" fill="#fff" font-size="25.43" font-weight="bold" stroke="#fff" stroke-width="0.45" stroke-linejoin="miter" stroke-miterlimit="3">44%</text>
<text transform="translate(1040.07,1247.58) scale(0.9700,1)" fill="#fff" font-size="25.43" font-weight="bold" stroke="#fff" stroke-width="0.45" stroke-linejoin="miter" stroke-miterlimit="3">11%</text>
<text transform="translate(1191.70,1247.58) scale(0.9700,1)" fill="#fff" font-size="25.43" font-weight="bold" stroke="#fff" stroke-width="0.45" stroke-linejoin="miter" stroke-miterlimit="3">22%</text>
<text transform="translate(1343.70,1247.58) scale(0.9700,1)" fill="#fff" font-size="25.43" font-weight="bold" stroke="#fff" stroke-width="0.45" stroke-linejoin="miter" stroke-miterlimit="3">22%</text>
<text transform="translate(2255.70,1247.58) scale(0.9700,1)" fill="#fff" font-size="25.43" font-weight="bold" stroke="#fff" stroke-width="0.45" stroke-linejoin="miter" stroke-miterlimit="3">22%</text>
<text transform="translate(2407.83,1247.58) scale(0.9700,1)" fill="#fff" font-size="25.43" font-weight="bold" stroke="#fff" stroke-width="0.45" stroke-linejoin="miter" stroke-miterlimit="3">33%</text>
<text transform="translate(1058.27,1286.98) scale(0.9700,1)" fill="#fff" font-size="25.00" font-weight="bold" stroke="#fff" stroke-width="0.45" stroke-linejoin="miter" stroke-miterlimit="3">9</text>
<text transform="translate(1051.60,1327.18) scale(0.9700,1)" fill="#fff" font-size="25.00" font-weight="bold" stroke="#fff" stroke-width="0.45" stroke-linejoin="miter" stroke-miterlimit="3">67</text>
<text transform="translate(1210.27,1286.98) scale(0.9700,1)" fill="#fff" font-size="25.00" font-weight="bold" stroke="#fff" stroke-width="0.45" stroke-linejoin="miter" stroke-miterlimit="3">9</text>
<text transform="translate(1203.54,1327.18) scale(0.9700,1)" fill="#fff" font-size="25.00" font-weight="bold" stroke="#fff" stroke-width="0.45" stroke-linejoin="miter" stroke-miterlimit="3">69</text>
<text transform="translate(1362.27,1286.98) scale(0.9700,1)" fill="#fff" font-size="25.00" font-weight="bold" stroke="#fff" stroke-width="0.45" stroke-linejoin="miter" stroke-miterlimit="3">9</text>
<text transform="translate(1355.60,1327.18) scale(0.9700,1)" fill="#fff" font-size="25.00" font-weight="bold" stroke="#fff" stroke-width="0.45" stroke-linejoin="miter" stroke-miterlimit="3">67</text>
<text transform="translate(1512.77,1287.60) scale(1.0000,1)" fill="#000" font-size="26.09" font-style="italic">9</text>
<text transform="translate(1504.55,1327.80) scale(1.0000,1)" fill="#000" font-size="26.09" font-style="italic">67</text>
<text transform="translate(1664.77,1287.60) scale(1.0000,1)" fill="#000" font-size="26.09" font-style="italic">9</text>
<text transform="translate(1657.27,1327.80) scale(1.0000,1)" fill="#000" font-size="26.09" font-style="italic">69</text>
<text transform="translate(1816.77,1287.60) scale(1.0000,1)" fill="#000" font-size="26.09" font-style="italic">9</text>
<text transform="translate(1809.27,1327.80) scale(1.0000,1)" fill="#000" font-size="26.09" font-style="italic">69</text>
<text transform="translate(1968.77,1287.60) scale(1.0000,1)" fill="#000" font-size="26.09" font-style="italic">9</text>
<text transform="translate(1961.07,1327.80) scale(1.0000,1)" fill="#000" font-size="26.09" font-style="italic">63</text>
<text transform="translate(2120.77,1287.60) scale(1.0000,1)" fill="#000" font-size="26.09" font-style="italic">9</text>
<text transform="translate(2113.40,1327.80) scale(1.0000,1)" fill="#000" font-size="26.09" font-style="italic">71</text>
<text transform="translate(2274.27,1286.98) scale(0.9700,1)" fill="#fff" font-size="25.00" font-weight="bold" stroke="#fff" stroke-width="0.45" stroke-linejoin="miter" stroke-miterlimit="3">9</text>
<text transform="translate(2267.60,1327.18) scale(0.9700,1)" fill="#fff" font-size="25.00" font-weight="bold" stroke="#fff" stroke-width="0.45" stroke-linejoin="miter" stroke-miterlimit="3">67</text>
<text transform="translate(2426.27,1286.98) scale(0.9700,1)" fill="#fff" font-size="25.00" font-weight="bold" stroke="#fff" stroke-width="0.45" stroke-linejoin="miter" stroke-miterlimit="3">9</text>
<text transform="translate(2419.48,1327.18) scale(0.9700,1)" fill="#fff" font-size="25.00" font-weight="bold" stroke="#fff" stroke-width="0.45" stroke-linejoin="miter" stroke-miterlimit="3">68</text>
<text transform="translate(787.99,1164.28) scale(0.9083,1)" fill="#000" font-size="27.32" font-weight="bold" stroke="#000" stroke-width="0.45" stroke-linejoin="miter" stroke-miterlimit="3">Natural Potential</text>
<text transform="translate(688.02,1205.58) scale(0.9331,1)" fill="#000" font-size="26.16" font-weight="bold" stroke="#000" stroke-width="0.45" stroke-linejoin="miter" stroke-miterlimit="3">Potential w/ Development</text>
<text transform="translate(796.03,1247.68) scale(0.9188,1)" fill="#000" font-size="26.45" font-weight="bold" stroke="#000" stroke-width="0.45" stroke-linejoin="miter" stroke-miterlimit="3">Not a Natural Fit</text>
<text transform="translate(844.12,1287.68) scale(0.9523,1)" fill="#000" font-size="25.72" font-weight="bold" stroke="#000" stroke-width="0.45" stroke-linejoin="miter" stroke-miterlimit="3">Participants</text>
<text transform="translate(892.01,1327.48) scale(0.8966,1)" fill="#000" font-size="26.30" font-weight="bold" stroke="#000" stroke-width="0.45" stroke-linejoin="miter" stroke-miterlimit="3">Average</text>
<text transform="translate(1753.97,1164.10) scale(0.9100,1)" fill="#000" font-size="26.81" font-style="italic">Strength</text>
<text transform="translate(1753.94,1205.60) scale(0.9837,1)" fill="#000" font-size="25.80" font-style="italic">Development</text>
<text transform="translate(1753.95,1248.00) scale(0.9482,1)" fill="#000" font-size="26.38" font-style="italic">Not a natural strength</text>
<rect x="281.20" y="729.10" width="31.80" height="31.80" rx="2.2" fill="url(#bg)" stroke="#858585" stroke-width="2"/>
<path d="M289.20,741.80 L305.00,741.80 L297.10,750.30 Z" fill="#7f7f7f" stroke="#7f7f7f" stroke-width="1.3" stroke-linejoin="round"/>
<rect x="487.00" y="729.10" width="31.80" height="31.80" rx="2.2" fill="url(#bg)" stroke="#858585" stroke-width="2"/>
<path d="M495.00,741.80 L510.80,741.80 L502.90,750.30 Z" fill="#7f7f7f" stroke="#7f7f7f" stroke-width="1.3" stroke-linejoin="round"/>
<rect x="708.60" y="729.10" width="31.80" height="31.80" rx="2.2" fill="url(#bg)" stroke="#858585" stroke-width="2"/>
<path d="M716.60,741.80 L732.40,741.80 L724.50,750.30 Z" fill="#7f7f7f" stroke="#7f7f7f" stroke-width="1.3" stroke-linejoin="round"/>
<rect x="955.00" y="729.10" width="31.80" height="31.80" rx="2.2" fill="url(#bg)" stroke="#858585" stroke-width="2"/>
<path d="M963.00,741.80 L978.80,741.80 L970.90,750.30 Z" fill="#7f7f7f" stroke="#7f7f7f" stroke-width="1.3" stroke-linejoin="round"/>
<rect x="1107.00" y="729.10" width="31.80" height="31.80" rx="2.2" fill="url(#bg)" stroke="#0d141b" stroke-width="2"/>
<rect x="1137.80" y="730.10" width="1.6" height="29.80" fill="#9a9a9a"/>
<path d="M1115.00,741.80 L1130.80,741.80 L1122.90,750.30 Z" fill="#7f7f7f" stroke="#7f7f7f" stroke-width="1.3" stroke-linejoin="round"/>
<rect x="1259.00" y="729.10" width="31.80" height="31.80" rx="2.2" fill="url(#bg)" stroke="#0d141b" stroke-width="2"/>
<rect x="1289.80" y="730.10" width="1.6" height="29.80" fill="#9a9a9a"/>
<path d="M1267.00,741.80 L1282.80,741.80 L1274.90,750.30 Z" fill="#7f7f7f" stroke="#7f7f7f" stroke-width="1.3" stroke-linejoin="round"/>
<rect x="1411.00" y="729.10" width="31.80" height="31.80" rx="2.2" fill="url(#bg)" stroke="#0d141b" stroke-width="2"/>
<rect x="1441.80" y="730.10" width="1.6" height="29.80" fill="#9a9a9a"/>
<path d="M1419.00,741.80 L1434.80,741.80 L1426.90,750.30 Z" fill="#7f7f7f" stroke="#7f7f7f" stroke-width="1.3" stroke-linejoin="round"/>
<rect x="1563.00" y="729.10" width="31.80" height="31.80" rx="2.2" fill="url(#bg)" stroke="#858585" stroke-width="2"/>
<path d="M1571.00,741.80 L1586.80,741.80 L1578.90,750.30 Z" fill="#7f7f7f" stroke="#7f7f7f" stroke-width="1.3" stroke-linejoin="round"/>
<rect x="1715.00" y="729.10" width="31.80" height="31.80" rx="2.2" fill="url(#bg)" stroke="#858585" stroke-width="2"/>
<path d="M1723.00,741.80 L1738.80,741.80 L1730.90,750.30 Z" fill="#7f7f7f" stroke="#7f7f7f" stroke-width="1.3" stroke-linejoin="round"/>
<rect x="1867.00" y="729.10" width="31.80" height="31.80" rx="2.2" fill="url(#bg)" stroke="#858585" stroke-width="2"/>
<path d="M1875.00,741.80 L1890.80,741.80 L1882.90,750.30 Z" fill="#7f7f7f" stroke="#7f7f7f" stroke-width="1.3" stroke-linejoin="round"/>
<rect x="2019.00" y="729.10" width="31.80" height="31.80" rx="2.2" fill="url(#bg)" stroke="#858585" stroke-width="2"/>
<path d="M2027.00,741.80 L2042.80,741.80 L2034.90,750.30 Z" fill="#7f7f7f" stroke="#7f7f7f" stroke-width="1.3" stroke-linejoin="round"/>
<rect x="2171.00" y="729.10" width="31.80" height="31.80" rx="2.2" fill="url(#bg)" stroke="#858585" stroke-width="2"/>
<path d="M2179.00,741.80 L2194.80,741.80 L2186.90,750.30 Z" fill="#7f7f7f" stroke="#7f7f7f" stroke-width="1.3" stroke-linejoin="round"/>
<rect x="2323.00" y="729.10" width="31.80" height="31.80" rx="2.2" fill="url(#bg)" stroke="#0d141b" stroke-width="2"/>
<rect x="2353.80" y="730.10" width="1.6" height="29.80" fill="#9a9a9a"/>
<path d="M2331.00,741.80 L2346.80,741.80 L2338.90,750.30 Z" fill="#7f7f7f" stroke="#7f7f7f" stroke-width="1.3" stroke-linejoin="round"/>
<rect x="2475.00" y="729.10" width="31.80" height="31.80" rx="2.2" fill="url(#bg)" stroke="#0d141b" stroke-width="2"/>
<rect x="2505.80" y="730.10" width="1.6" height="29.80" fill="#9a9a9a"/>
<path d="M2483.00,741.80 L2498.80,741.80 L2490.90,750.30 Z" fill="#7f7f7f" stroke="#7f7f7f" stroke-width="1.3" stroke-linejoin="round"/>
</svg>
</body></html>
